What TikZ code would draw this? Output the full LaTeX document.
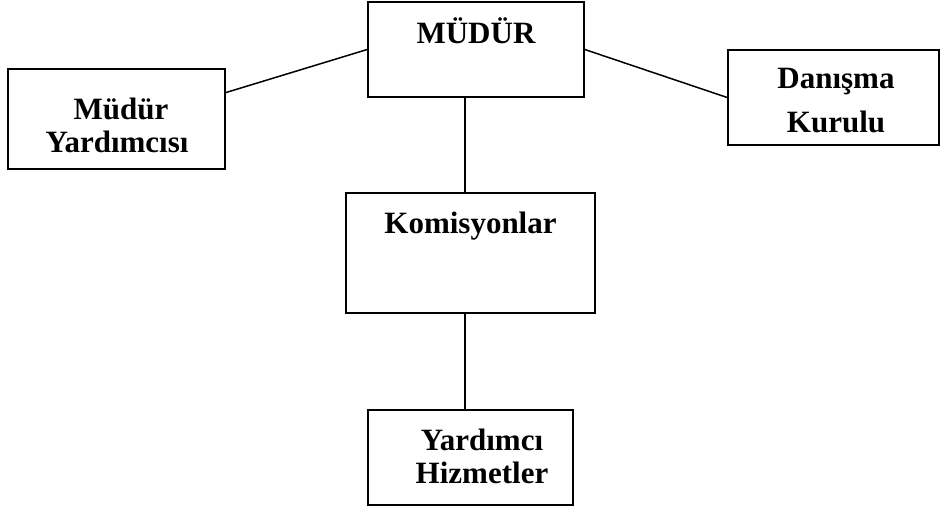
\documentclass[tikz,border=0pt]{standalone}
\usepackage{fontspec}
\setmainfont{Liberation Serif}
\usetikzlibrary{calc}
\tikzset{
  box/.style={draw=black, line width=1.6pt, rectangle, inner sep=0pt, fill=none},
  lbl/.style={inner sep=0pt, anchor=base, font=\fontsize{31}{33}\selectfont\bfseries},
  conn/.style={draw=black, line width=1.5pt}
}
\begin{document}
\begin{tikzpicture}[x=1pt,y=-1pt]
\useasboundingbox (0,0) rectangle (940,509);
% boxes
\node[box, minimum width=216pt, minimum height=95pt] (mudur) at (476,49.5) {};
\node[box, minimum width=217pt, minimum height=100pt] (my) at (116.5,119) {};
\node[box, minimum width=211pt, minimum height=95pt] (dk) at (833.5,97.5) {};
\node[box, minimum width=249pt, minimum height=120pt] (kom) at (470.5,253) {};
\node[box, minimum width=205pt, minimum height=95pt] (yh) at (470.5,457.5) {};
% labels
\node[lbl] (t1) at (476,43) {MÜDÜR};
\node[lbl] (t2) at (121,119) {Müdür};
\node[lbl] (t3) at (117,152) {Yardımcısı};
\node[lbl] (t4) at (836,88) {Danışma};
\node[lbl] (t5) at (836,132) {Kurulu};
\node[lbl] (t6) at (470.5,233) {Komisyonlar};
\node[lbl] (t7) at (482,450) {Yardımcı};
\node[lbl] (t8) at (482,483) {Hizmetler};
% connectors
\coordinate (c1) at ($(mudur.south west)!0.449!(mudur.south east)$);
\coordinate (c2) at ($(kom.south west)!0.478!(kom.south east)$);
\draw[conn] ($(my.north east)!0.24!(my.south east)$) -- (mudur.west);
\draw[conn] (mudur.east) -- (dk.west);
\draw[conn] (c1) -- (c1 |- kom.north);
\draw[conn] (c2) -- (c2 |- yh.north);
\end{tikzpicture}
\end{document}
